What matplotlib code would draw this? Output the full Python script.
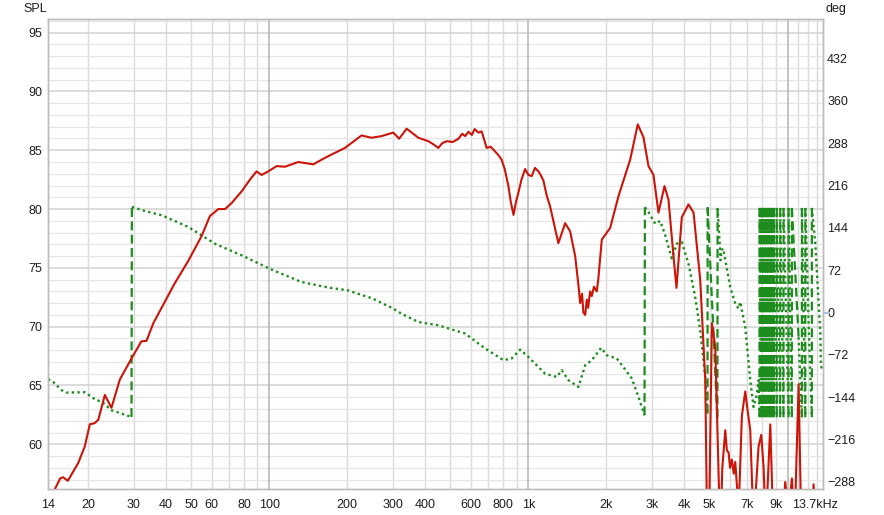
import numpy as np
import matplotlib
matplotlib.use("Agg")
import matplotlib.pyplot as plt
from matplotlib.ticker import NullLocator, NullFormatter
from matplotlib.transforms import ScaledTranslation

plt.rcParams['font.family'] = ['Liberation Sans', 'DejaVu Sans']
plt.rcParams['font.size'] = 9

# SPL curve (Hz, dB)
spl_freq = [14, 14.9, 15.6, 16.0, 16.7, 18.3, 19.4, 20.3, 21.2, 21.9, 23.2, 24.6, 26.5, 29.4,
            32.1, 33.6, 35.7, 38.4, 43.2, 48.7, 54.8, 59.0, 63.6, 67.5, 71.5, 78.2, 84.2,
            89.3, 93.4, 99.1, 106.7, 115, 129.4, 147.9, 159.2, 169, 196, 227, 248, 271,
            301, 317, 339, 376, 395, 411, 430, 449, 465, 484, 510, 537, 555, 570, 587, 605,
            620, 641, 660, 690, 715, 743, 765, 788, 810, 837, 855, 876, 895, 915, 940, 971,
            1000, 1030, 1060, 1093, 1115, 1143, 1175, 1213, 1260, 1305, 1386, 1449, 1515,
            1560, 1584, 1610, 1630, 1656, 1680, 1700, 1730, 1756, 1790, 1835, 1860, 1919,
            2068, 2226, 2470, 2642, 2780, 2906, 3038, 3176, 3350, 3471, 3629, 3727, 3907,
            4147, 4337, 4601, 4812, 4900, 4990, 5104, 5260, 5499, 5600, 5749, 5830, 5920,
            6000, 6095, 6200, 6282, 6400, 6469, 6662, 6866, 7000, 7178, 7391, 7727, 7916,
            8078, 8245, 8577, 8831, 9500, 9795, 10090, 10390, 10640, 11030, 11320, 12300,
            12600, 12900, 13700]
spl_db = [55.0, 56.2, 57.1, 57.2, 56.9, 58.4, 59.8, 61.7, 61.8, 62.1, 64.2, 63.1, 65.5, 67.3,
          68.75, 68.8, 70.3, 71.6, 73.7, 75.6, 77.7, 79.4, 80.0, 80.0, 80.5, 81.5, 82.5,
          83.2, 82.9, 83.2, 83.65, 83.6, 84.0, 83.8, 84.2, 84.5, 85.2, 86.26, 86.06, 86.2,
          86.5, 85.98, 86.83, 86.06, 85.9, 85.77, 85.5, 85.2, 85.6, 85.77, 85.7, 85.98,
          86.4, 86.2, 86.57, 86.3, 86.8, 86.5, 86.6, 85.2, 85.3, 84.9, 84.6, 84.2, 83.4,
          81.95, 80.6, 79.5, 80.6, 81.4, 82.5, 83.4, 82.9, 82.8, 83.5, 83.2, 82.9, 82.4,
          81.2, 80.2, 78.6, 77.1, 78.8, 78.1, 76.0, 73.5, 72.0, 72.8, 71.2, 71.0, 72.3,
          71.6, 73.0, 72.6, 73.4, 73.0, 74.0, 77.4, 78.4, 81.1, 84.2, 87.2, 86.1, 83.65,
          82.9, 79.7, 81.95, 80.8, 76.0, 73.3, 79.3, 80.4, 79.7, 74.0, 65.5, 52.0, 55.0,
          70.3, 68.3, 52.0, 58.0, 61.2, 59.5, 59.3, 58.0, 58.7, 57.5, 58.5, 56.0, 54.0,
          62.4, 64.5, 63.0, 61.2, 53.0, 59.8, 60.8, 58.1, 53.0, 61.7, 52.0, 52.0, 56.8,
          54.0, 57.1, 53.0, 65.1, 52.0, 52.0, 56.6, 52.0, 52.0]

# Phase curve (Hz, degrees, wrapped)
phase_freq = [14, 14.65, 15.8, 16.5, 19.4, 21.5, 22.5, 24.6, 29.4, 29.5, 33.1, 38.4, 48.7,
              61.7, 78.2, 100, 133, 169, 200, 250, 300, 324, 376, 449, 570, 680, 801, 862,
              929, 1000, 1160, 1286, 1345, 1427, 1560, 1656, 1756, 1909, 2006, 2193, 2505,
              2659, 2805, 2815, 2906, 3085, 3225, 3372, 3575, 3737, 3907, 4147, 4400, 4601,
              4812, 4910, 4915, 5360, 5370, 5450, 5513, 5562, 5645, 6008, 6282, 6469, 6569,
              6866, 7178, 7391, 7600, 7727, 7790, 7795, 7850, 7900, 7905, 7960, 8020, 8025,
              8080, 8140, 8145, 8200, 8260, 8265, 8320, 8380, 8385, 8440, 8500, 8505, 8560,
              8620, 8625, 8680, 8740, 8745, 8800, 8860, 8865, 8980, 9085, 9090, 9230, 9365,
              9370, 9510, 9645, 9650, 9870, 10085, 10090, 10240, 10385, 10390, 11030, 11355,
              11360, 11530, 11705, 11710, 12060, 12405, 12410, 12790, 13380, 13440, 13700]
phase_deg = [-113, -118, -132, -136, -135.5, -149, -151, -166, -177.5, 179.6, 172.8, 165.5,
             145.6, 117, 97.4, 74.8, 52, 42.5, 38, 24, 7, -2, -16, -21.6, -35.7, -61, -81,
             -78, -63, -75.5, -104, -109.5, -98, -115, -126.5, -89.6, -81, -60, -72.6, -78,
             -112, -143.5, -174.6, 179, 171, 151, 155.8, 131.5, 92, 117, 120, 83, 26.5, -30,
             -109.5, -172, 179, -179, 178, 130, 89, 106, 109, 43.5, 15, 7, 18, -24.5, -115,
             -160.5, -140, -115, -178, 178, 0, -178, 178, 0, -178, 178, 0, -178, 178, 0,
             -178, 178, 0, -178, 178, 0, -178, 178, 0, -178, 178, 0, -178, 178, 0, -178,
             178, 0, -178, 178, 0, -178, 178, 0, -178, 178, 0, -178, 178, 0, -178, 178, -42,
             -178, 178, 0, -178, 178, -20, -178, 178, 118, -35, -90, -100]

x_ticks = [14, 20, 30, 40, 50, 60, 80, 100, 200, 300, 400, 600, 800, 1000, 2000, 3000,
           4000, 5000, 7000, 9000, 13700]
x_labels = ['14', '20', '30', '40', '50', '60', '80', '100', '200', '300', '400', '600',
            '800', '1k', '2k', '3k', '4k', '5k', '7k', '9k', '13.7kHz']
deg_ticks = [-288, -216, -144, -72, 0, 72, 144, 216, 288, 360, 432]

red = '#cc1408'
green = '#1c8c1c'
txt = '#1e1e1e'

fig = plt.figure(figsize=(8.84, 5.15), dpi=100)
ax = fig.add_axes([48 / 884, 26 / 515, 775 / 884, 470.5 / 515])
ax2 = ax.twinx()

ax.set_xscale('log')
ax.set_xlim(14, 13700)
ax.set_ylim(56.2, 96.2)
ax2.set_ylim(-300, 500)

# grid
ax.set_yticks(range(60, 96, 5))
ax.set_yticks(np.arange(57, 97), minor=True)
ax.grid(which='minor', axis='y', color='#e6e6e6', lw=0.9)
ax.grid(which='major', axis='y', color='#d2d2d2', lw=1.1)
for dec in (10, 100, 1000):
    for m in range(2, 10):
        ax.axvline(m * dec, color='#dadada', lw=1.0, zorder=0.5)
for fx in (11000, 12000, 13000):
    ax.axvline(fx, color='#dadada', lw=1.0, zorder=0.5)
for fx in (100, 1000, 10000):
    ax.axvline(fx, color='#b4b4b4', lw=1.1, zorder=0.6)
ax.set_axisbelow(True)

# phase: dotted runs, dashed jumps
pf = np.array(phase_freq, dtype=float)
pd_ = np.array(phase_deg, dtype=float)
jump = np.abs(np.diff(pd_)) > 200
xs, ys = [], []
for i in range(len(pf)):
    xs.append(pf[i]); ys.append(pd_[i])
    if i < len(jump) and jump[i]:
        xs.append(np.nan); ys.append(np.nan)
        ax2.plot([pf[i], pf[i + 1]], [pd_[i], pd_[i + 1]], color=green, lw=1.6,
                 linestyle=(0, (4, 2)))
ax2.plot(xs, ys, color=green, lw=1.7, linestyle=(0, (1, 1.4)))

# SPL on top
ax2.plot(spl_freq, spl_db, color=red, lw=1.5, transform=ax.transData)

# ticks and labels
ax.set_xticks(x_ticks)
ax.set_xticklabels(x_labels)
ax.xaxis.set_minor_locator(NullLocator())
ax.xaxis.set_minor_formatter(NullFormatter())
ax.tick_params(axis='x', length=0, pad=7, colors=txt, labelsize=9)
ax.tick_params(axis='y', which='both', length=0, pad=4, colors=txt, labelsize=9)
ax2.set_yticks(deg_ticks)
ax2.tick_params(axis='y', length=0, pad=3, colors=txt, labelsize=9)
last = ax.get_xticklabels()[-1]
last.set_transform(last.get_transform() + ScaledTranslation(-0.08, 0, fig.dpi_scale_trans))

# small blue zero marker on phase axis
ax2.plot([1.002, 1.008], [0, 0], color='#a9c3e3', lw=1.5, clip_on=False,
         transform=ax2.get_yaxis_transform())

for a in (ax, ax2):
    for s in a.spines.values():
        s.set_color('#bcbcbc')
        s.set_linewidth(1.0)

fig.text(23 / 884, 1 - 9 / 515, 'SPL', ha='left', va='center', color=txt, fontsize=9)
fig.text(825 / 884, 1 - 9 / 515, 'deg', ha='left', va='center', color=txt, fontsize=9)

fig.savefig('out.png', dpi=100, facecolor='white')
